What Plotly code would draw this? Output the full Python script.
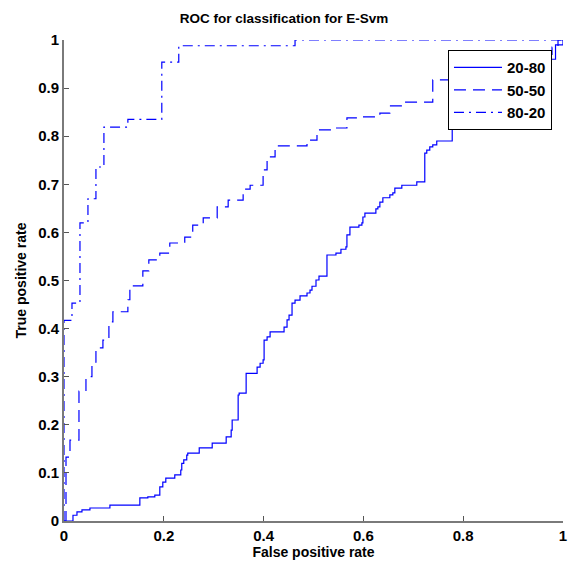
import plotly.graph_objects as go

# ROC curves (false positive rate, true positive rate) - step corners (hv)
fpr_20_80 = [0, 0.018, 0.026, 0.036, 0.052, 0.092, 0.152, 0.168, 0.182, 0.192, 0.198, 0.204,
             0.222, 0.234, 0.236, 0.240, 0.246, 0.248, 0.271, 0.297, 0.325, 0.335, 0.337,
             0.349, 0.351, 0.365, 0.387, 0.393, 0.399, 0.401, 0.407, 0.413, 0.441, 0.447,
             0.451, 0.457, 0.463, 0.473, 0.487, 0.493, 0.497, 0.505, 0.511, 0.527, 0.545,
             0.555, 0.565, 0.567, 0.573, 0.591, 0.597, 0.599, 0.603, 0.625, 0.629, 0.633,
             0.639, 0.653, 0.659, 0.663, 0.677, 0.707, 0.723, 0.727, 0.733, 0.739, 0.747,
             0.778, 0.84, 0.90, 0.96, 0.985, 1.0]
tpr_20_80 = [0, 0.012, 0.019, 0.023, 0.027, 0.033, 0.048, 0.050, 0.054, 0.071, 0.081, 0.089,
             0.096, 0.106, 0.120, 0.127, 0.137, 0.141, 0.152, 0.162, 0.175, 0.189, 0.210,
             0.262, 0.266, 0.307, 0.320, 0.328, 0.335, 0.376, 0.383, 0.393, 0.403, 0.418,
             0.428, 0.453, 0.459, 0.468, 0.474, 0.480, 0.488, 0.501, 0.509, 0.553, 0.557,
             0.565, 0.570, 0.595, 0.611, 0.615, 0.620, 0.632, 0.640, 0.649, 0.653, 0.663,
             0.672, 0.678, 0.682, 0.692, 0.698, 0.705, 0.765, 0.771, 0.778, 0.782, 0.790,
             0.823, 0.86, 0.92, 0.96, 0.99, 1.0]

fpr_50_50 = [0, 0.004, 0.012, 0.030, 0.044, 0.056, 0.064, 0.078, 0.086, 0.090, 0.098, 0.128,
             0.132, 0.158, 0.170, 0.192, 0.212, 0.242, 0.258, 0.279, 0.307, 0.329, 0.359,
             0.373, 0.399, 0.407, 0.423, 0.487, 0.507, 0.543, 0.567, 0.599, 0.633, 0.653,
             0.679, 0.739, 0.79, 0.86, 0.92, 0.978, 0.99, 1.0]
tpr_50_50 = [0, 0.133, 0.168, 0.270, 0.300, 0.330, 0.360, 0.376, 0.380, 0.414, 0.435, 0.460,
             0.489, 0.520, 0.543, 0.557, 0.578, 0.590, 0.615, 0.630, 0.653, 0.667, 0.690,
             0.698, 0.730, 0.757, 0.780, 0.792, 0.813, 0.817, 0.838, 0.840, 0.848, 0.863,
             0.871, 0.917, 0.93, 0.95, 0.97, 0.985, 1.0, 1.0]

fpr_80_20 = [0, 0, 0.016, 0.032, 0.048, 0.064, 0.080, 0.128, 0.196, 0.230, 0.463, 1.0]
tpr_80_20 = [0, 0.417, 0.453, 0.620, 0.670, 0.736, 0.819, 0.835, 0.954, 0.988, 1.0, 1.0]

series = [
    ("20-80", fpr_20_80, tpr_20_80, "solid"),
    ("50-50", fpr_50_50, tpr_50_50, "12px,7px"),
    ("80-20", fpr_80_20, tpr_80_20, "10px,5px,2px,5px"),
]

x_ticks = [0, 0.2, 0.4, 0.6, 0.8, 1]
x_tick_labels = ["0", "0.2", "0.4", "0.6", "0.8", "1"]
y_ticks = [0, 0.1, 0.2, 0.3, 0.4, 0.5, 0.6, 0.7, 0.8, 0.9, 1]
y_tick_labels = ["0", "0.1", "0.2", "0.3", "0.4", "0.5", "0.6", "0.7", "0.8", "0.9", "1"]

FONT = "Liberation Sans, Arial, sans-serif"

fig = go.Figure()
for name, xs, ys, dash in series:
    fig.add_trace(go.Scatter(
        x=xs, y=ys, mode="lines", name=f"<b>{name}</b>",
        line=dict(color="#0000ff", width=1.2, dash=dash, shape="hv"),
    ))

fig.update_layout(
    width=568, height=571,
    margin=dict(l=64, r=5, t=40, b=50, autoexpand=False),
    paper_bgcolor="white", plot_bgcolor="white",
    title=dict(text="<b>ROC for classification for E-Svm</b>", x=0.5, xanchor="center",
               y=1 - 18 / 571, yanchor="middle",
               font=dict(family=FONT, size=13.5, color="black")),
    showlegend=True,
    legend=dict(x=0.7695, y=0.979, xanchor="left", yanchor="top",
                bgcolor="white", bordercolor="black", borderwidth=1,
                font=dict(family=FONT, size=15, color="black"),
                itemwidth=48, tracegroupgap=0),
    font=dict(family=FONT, color="black"),
)

fig.update_xaxes(
    range=[0, 1], tickvals=x_ticks, ticktext=[f"<b>{t}</b>" for t in x_tick_labels],
    showgrid=False, zeroline=False, showline=True, linecolor="#7a7a7a", linewidth=2,
    ticks="inside", ticklen=5, tickcolor="#555555", tickwidth=1,
    tickfont=dict(family=FONT, size=15, color="black"),
    title=dict(text="<b>False positive rate</b>", standoff=4,
               font=dict(family=FONT, size=14, color="black")),
    automargin=False,
)
fig.update_yaxes(
    range=[0, 1], tickvals=y_ticks, ticktext=[f"<b>{t}</b>" for t in y_tick_labels],
    showgrid=False, zeroline=False, showline=True, linecolor="#7a7a7a", linewidth=2,
    ticks="inside", ticklen=5, tickcolor="#555555", tickwidth=1,
    tickfont=dict(family=FONT, size=15, color="black"),
    title=dict(text="<b>True positive rate</b>", standoff=8,
               font=dict(family=FONT, size=14, color="black")),
    automargin=False,
)

fig.write_html(
    "out.html",
    config={"displayModeBar": False},
    post_script="document.body.style.margin='0';document.body.style.overflow='hidden';",
)
